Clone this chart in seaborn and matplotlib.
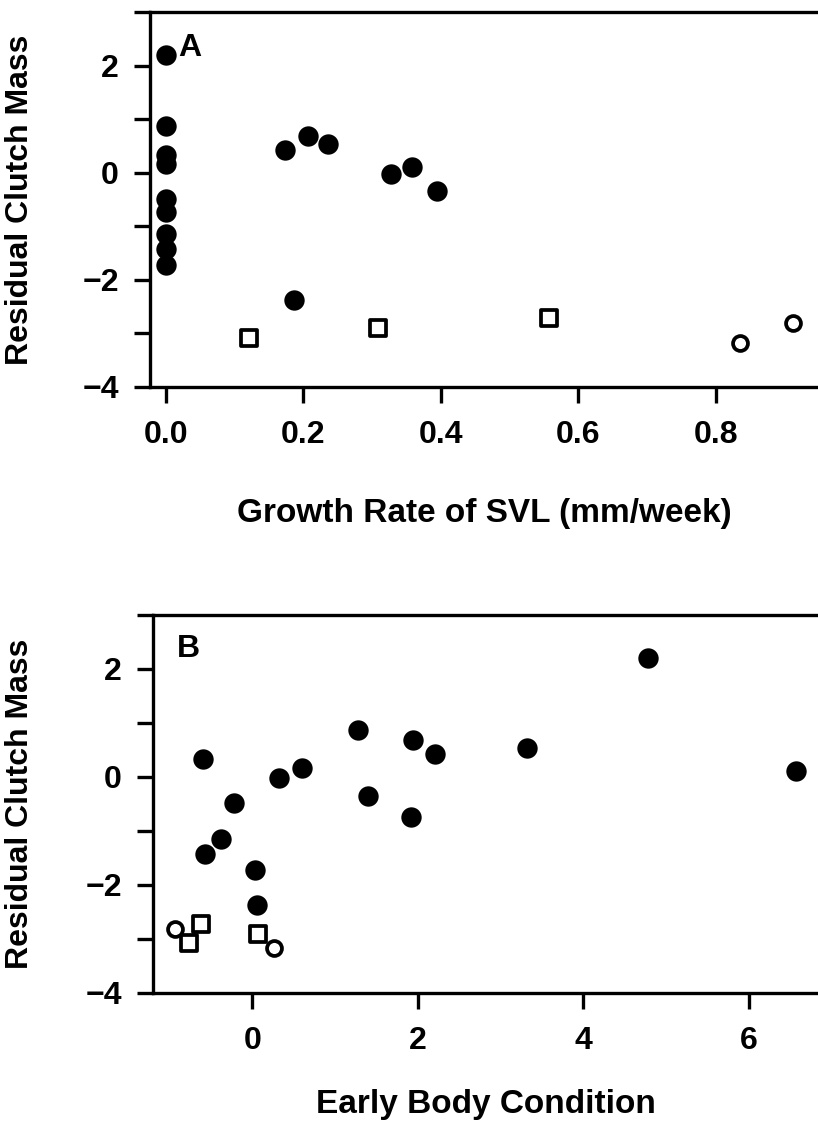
import matplotlib
matplotlib.use("Agg")
import matplotlib.pyplot as plt
import seaborn as sns
import pandas as pd
from matplotlib.ticker import FixedLocator

# ---- data ----
# filled circles
filled_resid = [2.20, 0.87, 0.69, 0.53, 0.42, 0.33, 0.16, 0.11, -0.02, -0.35,
                -0.49, -0.74, -1.15, -1.42, -1.73, -2.37]
filled_growth = [0.0, 0.0, 0.207, 0.236, 0.173, 0.0, 0.0, 0.358, 0.328, 0.395,
                 0.0, 0.0, 0.0, 0.0, 0.0, 0.186]
filled_cond = [4.78, 1.28, 1.94, 3.32, 2.21, -0.59, 0.60, 6.57, 0.32, 1.40,
               -0.22, 1.92, -0.38, -0.57, 0.03, 0.06]
# open squares
square_resid = [-3.08, -2.90, -2.72]
square_growth = [0.12, 0.309, 0.557]
square_cond = [-0.76, 0.07, -0.62]
# open circles
circle_resid = [-3.17, -2.81]
circle_growth = [0.835, 0.912]
circle_cond = [0.26, -0.94]

y_major = [-4, -2, 0, 2]
y_minor = [-3, -1, 1, 3]
y_labels = ["\u22124", "\u22122", "0", "2"]
xa_ticks = [0.0, 0.2, 0.4, 0.6, 0.8]
xa_labels = ["0.0", "0.2", "0.4", "0.6", "0.8"]
xb_ticks = [0, 2, 4, 6]
xb_labels = ["0", "2", "4", "6"]

df = pd.concat([
    pd.DataFrame({"resid": filled_resid, "growth": filled_growth, "cond": filled_cond, "grp": "filled"}),
    pd.DataFrame({"resid": square_resid, "growth": square_growth, "cond": square_cond, "grp": "square"}),
    pd.DataFrame({"resid": circle_resid, "growth": circle_growth, "cond": circle_cond, "grp": "circle"}),
], ignore_index=True)

sns.set_theme(style="white")
plt.rcParams["font.family"] = ["Liberation Sans", "DejaVu Sans"]
plt.rcParams["text.color"] = "black"
plt.rcParams["axes.labelcolor"] = "black"
plt.rcParams["xtick.color"] = "black"
plt.rcParams["ytick.color"] = "black"

W, H = 818, 1127
fig = plt.figure(figsize=(W / 100, H / 100), dpi=100)

axA = fig.add_axes([150 / W, 1 - 387 / H, (W - 150) / W, (387 - 12) / H])
axB = fig.add_axes([153 / W, 1 - 993 / H, (W - 153) / W, (993 - 615) / H])

styles = {
    "filled": dict(marker="o", s=215, color="black", edgecolor="black", linewidth=0),
    "square": dict(marker="s", s=125, color="white", edgecolor="black", linewidth=2.7),
    "circle": dict(marker="o", s=115, color="white", edgecolor="black", linewidth=2.7),
}

for ax, xcol in [(axA, "growth"), (axB, "cond")]:
    for g, kw in styles.items():
        sns.scatterplot(data=df[df.grp == g], x=xcol, y="resid", ax=ax,
                        legend=False, zorder=3, clip_on=False, **kw)
    ax.set_ylim(-4, 3)
    ax.yaxis.set_major_locator(FixedLocator(y_major))
    ax.yaxis.set_minor_locator(FixedLocator(y_minor))
    ax.set_yticklabels(y_labels)
    for side in ["left", "bottom", "top"]:
        ax.spines[side].set_linewidth(2.4)
        ax.spines[side].set_color("black")
    ax.spines["right"].set_visible(False)
    ax.tick_params(axis="both", which="both", direction="out", length=11.5,
                   width=2.4, color="black", left=True, bottom=True)
    ax.tick_params(axis="y", which="both", pad=11)
    ax.tick_params(axis="x", which="both", pad=12)
    for lab in ax.get_yticklabels():
        lab.set_fontsize(23)
        lab.set_fontweight("bold")
    ax.set_ylabel("Residual Clutch Mass", fontsize=23, fontweight="bold")

axA.set_xlim(-0.0234, 0.949)
axA.set_xticks(xa_ticks)
axA.set_xticklabels(xa_labels, fontsize=23, fontweight="bold")
axA.set_xlabel("Growth Rate of SVL (mm/week)", fontsize=24, fontweight="bold", labelpad=35)
axA.yaxis.set_label_coords(-(150 - 35) / (W - 150), 0.5)

axB.set_xlim(-1.2, 6.84)
axB.set_xticks(xb_ticks)
axB.set_xticklabels(xb_labels, fontsize=23, fontweight="bold")
axB.set_xlabel("Early Body Condition", fontsize=24, fontweight="bold", labelpad=24)
axB.yaxis.set_label_coords(-(153 - 35) / (W - 153), 0.5)

axA.text(0.042, 0.905, "A", transform=axA.transAxes, fontsize=23,
         fontweight="bold", va="center", ha="left")
axB.text(0.036, 0.91, "B", transform=axB.transAxes, fontsize=23,
         fontweight="bold", va="center", ha="left")

fig.savefig("out.png", dpi=100)
